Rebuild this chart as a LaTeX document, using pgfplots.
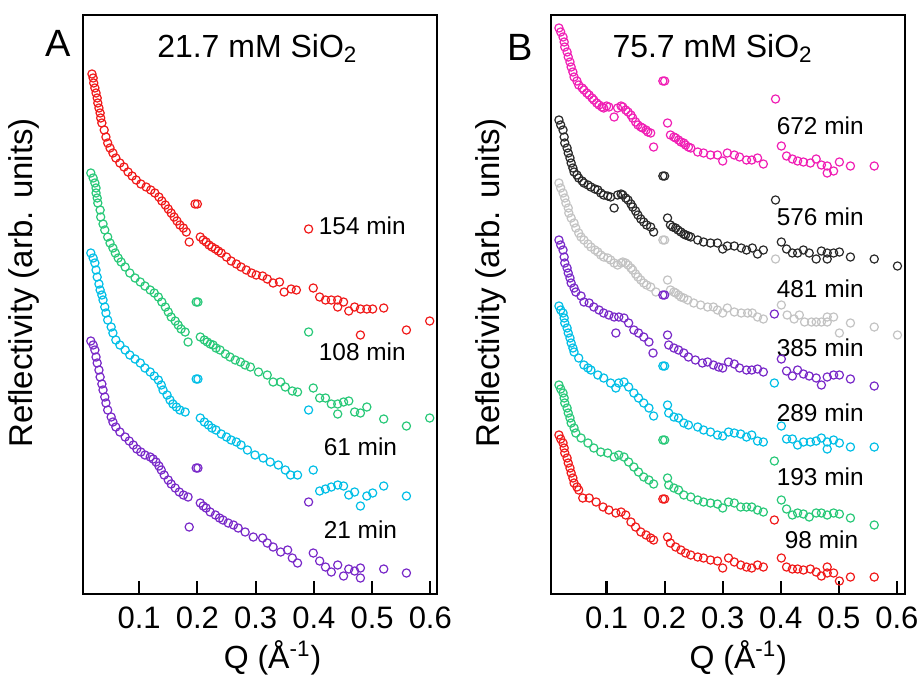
\documentclass[border=0pt]{standalone}
\usepackage{pgfplots}
\pgfplotsset{compat=1.18}
\usepackage{fontspec}
\setmainfont{Liberation Sans}
\definecolor{cRed}{RGB}{240,25,25}
\definecolor{cGreen}{RGB}{40,200,120}
\definecolor{cCyan}{RGB}{0,190,230}
\definecolor{cPurple}{RGB}{120,40,200}
\definecolor{cMag}{RGB}{240,30,180}
\definecolor{cBlack}{RGB}{40,40,40}
\definecolor{cGray}{RGB}{195,195,195}
\pgfplotsset{
  panel/.style={anchor=south west, scale only axis, width=177pt, height=289.5pt,
    ymin=83, ymax=662, ytick=\empty,
    xtick={0.1,0.2,0.3,0.4,0.5,0.6},
    xticklabels={\tl{0.1},\tl{0.2},\tl{0.3},\tl{0.4},\tl{0.5},\tl{0.6}},
    xtick pos=bottom, tick align=inside, major tick length=6.5pt,
    axis line style={line width=1.3pt},
    every tick/.style={line width=1.1pt, black},
    xticklabel style={yshift=-3pt},
    /pgf/number format/assume math mode=true,
    clip=false},
  pts/.style={only marks, mark=o, mark size=2.05pt, color=#1, mark options={line width=0.6pt}},
}
\tikzset{tm/.style={anchor=west, inner sep=0pt, font=\fontsize{12.2}{14}\selectfont}}
\newcommand{\tl}[1]{{\fontsize{15.5}{17}\selectfont #1}}
\begin{document}
\begin{tikzpicture}
\useasboundingbox (0,0) rectangle (460.5pt,338.5pt);
% ---------------- Panel A ----------------
\begin{axis}[panel, at={(41.5pt,41.5pt)}, xmin=0.0036, xmax=0.6115]
\addplot[pts=cRed] coordinates {
(0.019,603)(0.021,599)(0.022,594)(0.024,589)(0.026,584)(0.028,579)(0.029,574)(0.031,569)(0.033,564)(0.034,559)
(0.036,554)(0.040,547)(0.043,540)(0.046,534)(0.050,529)(0.055,524)(0.060,519)(0.067,514)(0.074,510)(0.081,505)
(0.088,501)(0.095,497)(0.103,493)(0.112,490)(0.120,487)(0.127,484)(0.134,480)(0.139,476)(0.145,472)(0.150,468)
(0.155,464)(0.160,460)(0.165,456)(0.170,452)(0.176,449)(0.181,445)(0.186,435)(0.196,473)(0.200,473)(0.205,440)
(0.210,437)(0.215,435)(0.220,432)(0.225,430)(0.231,428)(0.236,426)(0.241,424)(0.250,420)(0.258,416)(0.267,413)
(0.275,410)(0.284,407)(0.293,404)(0.301,402)(0.312,401)(0.320,398)(0.330,394)(0.341,395)(0.349,385)(0.361,388)
(0.370,387)(0.391,448)(0.399,389)(0.410,380)(0.420,377)(0.430,377)(0.441,377)(0.441,370)(0.451,375)(0.460,366)
(0.470,370)(0.480,368)(0.491,368)(0.501,368)(0.520,369)(0.480,342)(0.559,347)(0.599,356)};
\addplot[pts=cGreen] coordinates {
(0.017,504)(0.021,499)(0.024,494)(0.026,489)(0.026,484)(0.028,479)(0.029,474)(0.033,467)(0.034,460)(0.038,453)
(0.041,447)(0.046,440)(0.050,434)(0.055,429)(0.059,424)(0.064,419)(0.069,415)(0.076,410)(0.084,404)(0.093,399)
(0.102,395)(0.110,391)(0.119,387)(0.126,384)(0.133,380)(0.139,375)(0.145,370)(0.150,365)(0.155,360)(0.162,356)
(0.167,352)(0.172,348)(0.179,345)(0.184,335)(0.198,375)(0.201,375)(0.205,340)(0.212,337)(0.217,335)(0.222,333)
(0.227,332)(0.232,329)(0.239,327)(0.248,323)(0.256,320)(0.265,317)(0.274,315)(0.282,312)(0.291,310)(0.305,305)
(0.320,302)(0.330,295)(0.343,295)(0.351,290)(0.363,286)(0.372,285)(0.391,345)(0.399,289)(0.410,279)(0.420,279)
(0.430,273)(0.441,273)(0.441,263)(0.451,275)(0.460,276)(0.470,265)(0.480,264)(0.491,270)(0.520,258)(0.559,251)
(0.599,259)};
\addplot[pts=cCyan] coordinates {
(0.017,424)(0.021,419)(0.024,414)(0.026,407)(0.028,400)(0.031,393)(0.033,387)(0.036,382)(0.038,377)(0.041,370)
(0.043,364)(0.046,357)(0.052,350)(0.055,344)(0.060,337)(0.067,332)(0.076,327)(0.084,322)(0.093,318)(0.102,314)
(0.110,309)(0.119,305)(0.126,301)(0.133,297)(0.138,292)(0.141,287)(0.148,282)(0.153,277)(0.158,273)(0.164,270)
(0.170,267)(0.179,265)(0.198,298)(0.201,298)(0.205,259)(0.212,255)(0.219,252)(0.225,249)(0.232,247)(0.241,243)
(0.250,240)(0.258,237)(0.267,235)(0.275,232)(0.286,227)(0.299,222)(0.313,219)(0.325,215)(0.339,212)(0.351,207)
(0.360,202)(0.372,202)(0.391,267)(0.399,207)(0.410,186)(0.420,188)(0.430,190)(0.441,192)(0.451,191)(0.460,182)
(0.470,185)(0.480,171)(0.491,181)(0.501,184)(0.520,191)(0.559,181)};
\addplot[pts=cPurple] coordinates {
(0.017,336)(0.021,332)(0.024,327)(0.026,320)(0.028,314)(0.031,307)(0.033,300)(0.036,293)(0.038,287)(0.041,280)
(0.043,274)(0.046,267)(0.052,260)(0.055,255)(0.060,250)(0.067,245)(0.076,240)(0.083,236)(0.090,232)(0.096,228)
(0.103,225)(0.110,222)(0.119,220)(0.124,218)(0.129,215)(0.134,211)(0.138,207)(0.143,202)(0.150,197)(0.155,193)
(0.162,189)(0.169,185)(0.176,182)(0.184,180)(0.186,150)(0.198,209)(0.201,209)(0.205,174)(0.210,171)(0.215,169)
(0.222,165)(0.231,162)(0.238,159)(0.244,157)(0.253,154)(0.262,152)(0.270,149)(0.282,145)(0.296,140)(0.312,139)
(0.320,134)(0.330,130)(0.343,125)(0.355,127)(0.363,119)(0.372,114)(0.391,175)(0.399,124)(0.410,116)(0.420,110)
(0.430,105)(0.441,112)(0.451,101)(0.460,108)(0.470,106)(0.480,109)(0.480,99)(0.520,108)(0.559,104)};
\node[anchor=center, font=\fontsize{19}{20}\selectfont] at (axis cs:-0.0396,634) {A};
\node[anchor=center, font=\fontsize{16}{18}\selectfont] at (axis cs:0.303,629) {21.7 mM SiO\textsubscript{2}};
\node[tm] at (axis cs:0.408,451) {154 min};
\node[tm] at (axis cs:0.408,325) {108 min};
\node[tm] at (axis cs:0.4165,230) {61 min};
\node[tm] at (axis cs:0.4165,147) {21 min};
\node[rotate=90, anchor=center, font=\fontsize{16.5}{18}\selectfont] at (axis cs:-0.098,394) {Reflectivity (arb. units)};
\node[anchor=center, font=\fontsize{16}{18}\selectfont] at (axis cs:0.329,19) {Q (Å\textsuperscript{-1})};
\end{axis}
% ---------------- Panel B ----------------
\begin{axis}[panel, at={(275.5pt,41.5pt)}, xmin=0.0043, xmax=0.614]
\addplot[pts=cMag] coordinates {
(0.018,649)(0.021,645)(0.025,640)(0.027,635)(0.028,630)(0.032,625)(0.034,620)(0.037,615)(0.039,610)(0.042,605)
(0.044,600)(0.049,596)(0.052,592)(0.058,589)(0.061,587)(0.066,584)(0.070,582)(0.075,579)(0.078,577)(0.083,574)
(0.087,572)(0.092,570)(0.095,569)(0.100,571)(0.104,570)(0.113,560)(0.119,569)(0.125,571)(0.128,570)(0.133,567)
(0.137,565)(0.142,562)(0.145,559)(0.150,555)(0.154,552)(0.159,550)(0.162,549)(0.168,547)(0.171,545)(0.176,544)
(0.181,530)(0.197,596)(0.200,596)(0.205,554)(0.210,542)(0.216,540)(0.219,539)(0.224,537)(0.228,535)(0.233,534)
(0.236,532)(0.241,530)(0.245,529)(0.257,525)(0.267,524)(0.279,522)(0.291,522)(0.300,516)(0.308,524)(0.320,522)
(0.329,520)(0.341,517)(0.350,517)(0.360,519)(0.370,513)(0.391,578)(0.401,531)(0.410,521)(0.420,518)(0.429,516)
(0.439,515)(0.451,514)(0.461,518)(0.470,512)(0.480,511)(0.480,504)(0.491,506)(0.501,515)(0.520,511)(0.561,511)};
\addplot[pts=cBlack] coordinates {
(0.018,557)(0.021,552)(0.025,547)(0.027,540)(0.028,534)(0.032,529)(0.034,524)(0.037,519)(0.039,514)(0.042,509)
(0.044,505)(0.049,502)(0.052,499)(0.058,496)(0.061,494)(0.068,492)(0.073,490)(0.080,488)(0.085,487)(0.090,484)
(0.095,482)(0.102,481)(0.107,480)(0.113,469)(0.119,482)(0.125,483)(0.128,482)(0.133,479)(0.137,477)(0.142,473)
(0.145,470)(0.150,466)(0.154,462)(0.159,458)(0.164,455)(0.169,452)(0.176,450)(0.181,445)(0.197,501)(0.200,501)
(0.205,459)(0.210,452)(0.214,450)(0.219,449)(0.223,447)(0.228,445)(0.233,443)(0.236,442)(0.241,441)(0.245,440)
(0.257,437)(0.267,435)(0.279,434)(0.291,434)(0.300,428)(0.308,431)(0.320,431)(0.332,429)(0.341,427)(0.351,429)
(0.360,423)(0.370,427)(0.391,477)(0.401,435)(0.410,428)(0.420,424)(0.429,424)(0.439,427)(0.449,424)(0.461,418)
(0.470,426)(0.480,424)(0.480,418)(0.491,424)(0.501,425)(0.520,420)(0.561,418)(0.601,411)};
\addplot[pts=cGray] coordinates {
(0.018,494)(0.021,489)(0.025,484)(0.028,479)(0.030,474)(0.034,469)(0.035,464)(0.039,459)(0.044,454)(0.047,449)
(0.052,444)(0.056,440)(0.061,437)(0.068,433)(0.073,430)(0.080,427)(0.085,425)(0.090,422)(0.095,420)(0.102,419)
(0.107,417)(0.113,414)(0.119,412)(0.125,414)(0.128,415)(0.133,414)(0.137,412)(0.142,409)(0.145,407)(0.150,403)
(0.154,400)(0.159,397)(0.164,394)(0.169,392)(0.176,390)(0.185,385)(0.197,437)(0.200,437)(0.205,397)(0.210,387)
(0.216,385)(0.219,384)(0.224,382)(0.228,380)(0.233,379)(0.240,377)(0.250,374)(0.262,372)(0.274,370)(0.284,370)
(0.291,367)(0.300,364)(0.308,369)(0.320,365)(0.332,364)(0.343,364)(0.351,364)(0.360,360)(0.370,358)(0.391,418)
(0.401,372)(0.411,362)(0.423,358)(0.432,362)(0.441,355)(0.453,355)(0.461,355)(0.470,355)(0.480,355)(0.480,360)
(0.491,360)(0.501,344)(0.520,354)(0.561,350)(0.601,342)};
\addplot[pts=cPurple] coordinates {
(0.018,437)(0.021,432)(0.025,427)(0.027,420)(0.028,414)(0.032,409)(0.034,404)(0.037,399)(0.039,394)(0.044,389)
(0.047,385)(0.056,381)(0.061,375)(0.070,374)(0.078,370)(0.087,367)(0.095,364)(0.104,362)(0.113,360)(0.116,344)
(0.121,360)(0.130,359)(0.138,354)(0.147,347)(0.155,344)(0.164,340)(0.173,335)(0.180,324)(0.197,382)(0.200,382)
(0.205,342)(0.207,332)(0.216,329)(0.224,327)(0.233,324)(0.241,320)(0.253,317)(0.265,314)(0.274,315)(0.284,312)
(0.293,310)(0.300,309)(0.310,315)(0.320,313)(0.329,309)(0.341,307)(0.350,307)(0.360,308)(0.370,305)(0.389,363)
(0.401,318)(0.410,306)(0.420,301)(0.429,307)(0.439,303)(0.449,301)(0.461,299)(0.470,292)(0.480,300)(0.491,302)
(0.501,302)(0.520,298)(0.561,291)};
\addplot[pts=cCyan] coordinates {
(0.018,371)(0.021,367)(0.025,364)(0.027,359)(0.028,354)(0.032,349)(0.034,344)(0.037,339)(0.039,334)(0.042,329)
(0.044,325)(0.052,319)(0.061,312)(0.068,309)(0.073,307)(0.085,302)(0.095,299)(0.107,294)(0.116,289)(0.121,294)
(0.130,295)(0.138,290)(0.147,284)(0.155,279)(0.164,274)(0.173,269)(0.181,261)(0.197,311)(0.200,311)(0.205,272)
(0.207,264)(0.216,260)(0.224,259)(0.233,254)(0.241,252)(0.257,250)(0.267,247)(0.279,245)(0.291,242)(0.300,241)
(0.310,245)(0.320,244)(0.331,243)(0.341,240)(0.350,242)(0.360,236)(0.370,235)(0.389,294)(0.401,251)(0.410,238)
(0.420,238)(0.429,232)(0.439,235)(0.451,235)(0.461,236)(0.470,239)(0.480,228)(0.480,235)(0.491,237)(0.501,234)
(0.520,230)(0.561,230)};
\addplot[pts=cGreen] coordinates {
(0.018,292)(0.021,288)(0.025,284)(0.027,279)(0.028,274)(0.032,269)(0.034,264)(0.037,259)(0.039,254)(0.044,249)
(0.047,244)(0.056,239)(0.068,234)(0.078,229)(0.090,225)(0.102,224)(0.113,220)(0.121,222)(0.130,220)(0.138,215)
(0.147,210)(0.155,205)(0.164,200)(0.173,197)(0.181,193)(0.197,237)(0.200,237)(0.205,199)(0.207,192)(0.216,189)
(0.224,187)(0.233,182)(0.245,180)(0.257,177)(0.267,175)(0.279,174)(0.291,173)(0.300,169)(0.310,175)(0.320,174)
(0.331,170)(0.341,170)(0.350,170)(0.360,167)(0.370,165)(0.389,216)(0.401,177)(0.410,168)(0.420,162)(0.429,164)
(0.439,163)(0.449,160)(0.461,164)(0.470,164)(0.480,162)(0.491,164)(0.501,163)(0.520,159)(0.561,152)};
\addplot[pts=cRed] coordinates {
(0.018,242)(0.021,238)(0.025,234)(0.027,229)(0.028,224)(0.032,219)(0.034,214)(0.037,209)(0.039,204)(0.042,199)
(0.044,194)(0.049,190)(0.052,187)(0.059,179)(0.070,179)(0.082,175)(0.094,170)(0.104,167)(0.116,164)(0.125,165)
(0.133,162)(0.142,155)(0.150,150)(0.159,145)(0.168,142)(0.176,139)(0.181,137)(0.197,178)(0.200,178)(0.205,140)
(0.210,134)(0.219,130)(0.228,127)(0.236,124)(0.245,122)(0.257,120)(0.267,119)(0.279,117)(0.291,116)(0.300,109)
(0.310,119)(0.320,115)(0.331,112)(0.341,110)(0.350,109)(0.360,112)(0.370,110)(0.389,157)(0.401,119)(0.410,110)
(0.420,108)(0.429,108)(0.439,107)(0.451,108)(0.461,105)(0.470,101)(0.480,110)(0.480,104)(0.491,104)(0.501,96)
(0.520,100)(0.561,100)};
\node[anchor=center, font=\fontsize{19}{20}\selectfont] at (axis cs:-0.049,630) {B};
\node[anchor=center, font=\fontsize{16}{18}\selectfont] at (axis cs:0.2826,629) {75.7 mM SiO\textsubscript{2}};
\node[tm] at (axis cs:0.3926,551) {672 min};
\node[tm] at (axis cs:0.3926,460) {576 min};
\node[tm] at (axis cs:0.3926,388) {481 min};
\node[tm] at (axis cs:0.3926,329) {385 min};
\node[tm] at (axis cs:0.3926,264) {289 min};
\node[tm] at (axis cs:0.3926,200) {193 min};
\node[tm] at (axis cs:0.4064,137) {98 min};
\node[rotate=90, anchor=center, font=\fontsize{16.5}{18}\selectfont] at (axis cs:-0.0988,394) {Reflectivity (arb. units)};
\node[anchor=center, font=\fontsize{16}{18}\selectfont] at (axis cs:0.327,19) {Q (Å\textsuperscript{-1})};
\end{axis}
\end{tikzpicture}
\end{document}
